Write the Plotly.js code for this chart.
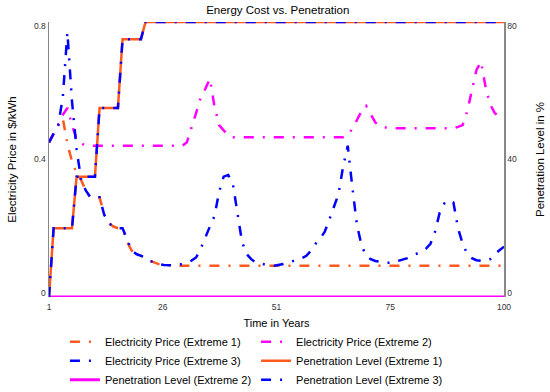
<!DOCTYPE html>
<html>
<head>
<meta charset="utf-8">
<script src="https://cdn.plot.ly/plotly-3.0.1.min.js"></script>
<style>html,body{margin:0;padding:0;background:#fff;}#chart{width:550px;height:392px;}</style>
</head>
<body>
<div id="chart"></div>
<script>
const years = [1,2,3,4,5,6,7,8,9,10,11,12,13,14,15,16,17,18,19,20,21,22,23,24,25,26,27,28,29,30,31,32,33,34,35,36,37,38,39,40,41,42,43,44,45,46,47,48,49,50,51,52,53,54,55,56,57,58,59,60,61,62,63,64,65,66,67,68,69,70,71,72,73,74,75,76,77,78,79,80,81,82,83,84,85,86,87,88,89,90,91,92,93,94,95,96,97,98,99,100];

const priceExtreme1 = [0.45,0.475,0.50,0.52,0.445,0.395,0.36,0.34,0.31,0.29,0.29,0.29,0.24,0.215,0.205,0.20,0.20,0.16,0.135,0.125,0.12,0.115,0.105,0.10,0.095,0.093,0.091,0.091,0.091,0.091,0.091,0.091,0.091,0.091,0.091,0.091,0.091,0.091,0.091,0.091,0.091,0.091,0.091,0.091,0.091,0.091,0.091,0.091,0.091,0.091,0.091,0.091,0.091,0.091,0.091,0.091,0.091,0.091,0.091,0.091,0.091,0.091,0.091,0.091,0.091,0.091,0.091,0.091,0.091,0.091,0.091,0.091,0.091,0.091,0.091,0.091,0.091,0.091,0.091,0.091,0.091,0.091,0.091,0.091,0.091,0.091,0.091,0.091,0.091,0.091,0.091,0.091,0.091,0.091,0.091,0.091,0.091,0.091,0.091,0.091];

const priceExtreme2 = [0.45,0.475,0.50,0.53,0.55,0.50,0.46,0.447,0.44,0.44,0.44,0.44,0.44,0.44,0.44,0.44,0.44,0.44,0.44,0.44,0.44,0.44,0.44,0.44,0.44,0.44,0.44,0.44,0.44,0.44,0.45,0.49,0.535,0.58,0.605,0.635,0.555,0.50,0.485,0.47,0.465,0.465,0.465,0.465,0.465,0.465,0.465,0.465,0.465,0.465,0.465,0.465,0.465,0.465,0.465,0.465,0.465,0.465,0.465,0.465,0.465,0.465,0.465,0.465,0.465,0.47,0.49,0.515,0.54,0.556,0.53,0.508,0.497,0.493,0.491,0.491,0.491,0.491,0.491,0.491,0.491,0.491,0.491,0.491,0.491,0.491,0.491,0.491,0.491,0.495,0.50,0.54,0.60,0.66,0.685,0.61,0.56,0.535,0.525,0.517];

const priceExtreme3 = [0.45,0.475,0.50,0.58,0.77,0.57,0.43,0.34,0.31,0.29,0.29,0.29,0.24,0.215,0.205,0.20,0.20,0.165,0.135,0.125,0.12,0.115,0.105,0.10,0.095,0.093,0.092,0.092,0.093,0.096,0.10,0.106,0.115,0.14,0.175,0.205,0.235,0.305,0.35,0.355,0.33,0.24,0.16,0.125,0.11,0.10,0.097,0.094,0.092,0.091,0.093,0.096,0.10,0.103,0.108,0.113,0.12,0.135,0.155,0.17,0.19,0.225,0.265,0.30,0.38,0.44,0.32,0.21,0.15,0.12,0.11,0.105,0.103,0.10,0.10,0.10,0.105,0.108,0.113,0.12,0.125,0.132,0.14,0.155,0.19,0.245,0.272,0.282,0.275,0.20,0.155,0.125,0.113,0.107,0.105,0.105,0.11,0.125,0.136,0.146];

const penExtreme1 = [0,20,20,20,20,20,35,35,35,35,35,55,55,55,55,55,75,75,75,75,75,80,80,80,80,80,80,80,80,80,80,80,80,80,80,80,80,80,80,80,80,80,80,80,80,80,80,80,80,80,80,80,80,80,80,80,80,80,80,80,80,80,80,80,80,80,80,80,80,80,80,80,80,80,80,80,80,80,80,80,80,80,80,80,80,80,80,80,80,80,80,80,80,80,80,80,80,80,80,80];

const penExtreme2 = [0,0,0,0,0,0,0,0,0,0,0,0,0,0,0,0,0,0,0,0,0,0,0,0,0,0,0,0,0,0,0,0,0,0,0,0,0,0,0,0,0,0,0,0,0,0,0,0,0,0,0,0,0,0,0,0,0,0,0,0,0,0,0,0,0,0,0,0,0,0,0,0,0,0,0,0,0,0,0,0,0,0,0,0,0,0,0,0,0,0,0,0,0,0,0,0,0,0,0,0];

const penExtreme3 = [0,20,20,20,20,20,35,35,35,35,35,55,55,55,55,55,75,75,75,75,75,80,80,80,80,80,80,80,80,80,80,80,80,80,80,80,80,80,80,80,80,80,80,80,80,80,80,80,80,80,80,80,80,80,80,80,80,80,80,80,80,80,80,80,80,80,80,80,80,80,80,80,80,80,80,80,80,80,80,80,80,80,80,80,80,80,80,80,80,80,80,80,80,80,80,80,80,80,80,80];

const xTickVals = [1, 25.75, 50.5, 75.25, 100];
const xTickText = ["1", "26", "51", "75", "100"];
// end labels sit slightly inside the plot edges, as in the reference
const leftTickVals = [0.0125, 0.4, 0.788];
const leftTickText = ["0", "0.4", "0.8"];
const rightTickVals = [1.25, 40, 78.8];
const rightTickText = ["0", "40", "80"];

const ORANGE = '#ff5a1e', MAGENTA = '#ff00ff', BLUE = '#0000ff';
const DASHDOT = '10px,9px,2px,9px';

const traces = [
  {x: years, y: priceExtreme1, name: 'Electricity Price (Extreme 1)', mode: 'lines', yaxis: 'y',
   line: {color: ORANGE, width: 2.5, dash: DASHDOT}},
  {x: years, y: priceExtreme2, name: 'Electricity Price (Extreme 2)', mode: 'lines', yaxis: 'y',
   line: {color: MAGENTA, width: 2.5, dash: DASHDOT}},
  {x: years, y: priceExtreme3, name: 'Electricity Price (Extreme 3)', mode: 'lines', yaxis: 'y',
   line: {color: BLUE, width: 2.5, dash: DASHDOT}},
  {x: years, y: penExtreme1, name: 'Penetration Level (Extreme 1)', mode: 'lines', yaxis: 'y2',
   line: {color: ORANGE, width: 2.5}},
  {x: years, y: penExtreme2, name: 'Penetration Level (Extreme 2)', mode: 'lines', yaxis: 'y2',
   line: {color: MAGENTA, width: 3}},
  {x: years, y: penExtreme3, name: 'Penetration Level (Extreme 3)', mode: 'lines', yaxis: 'y2',
   line: {color: BLUE, width: 2.5, dash: DASHDOT}}
];

const FONT = '"Liberation Sans", Arial, sans-serif';

const layout = {
  width: 550, height: 392,
  margin: {l: 49, r: 46, t: 22, b: 95, autoexpand: false},
  paper_bgcolor: '#fff', plot_bgcolor: '#fff',
  font: {family: FONT, color: '#000'},
  showlegend: true,
  title: {text: 'Energy Cost vs. Penetration', font: {size: 11.5, color: '#000'}, x: 0.505, xanchor: 'center', y: 0.975, yanchor: 'middle'},
  xaxis: {
    range: [1, 100], tickvals: xTickVals, ticktext: xTickText, showgrid: false, zeroline: false,
    showline: false, ticks: '', tickfont: {size: 8.5, color: '#333'}, ticklabelstandoff: 3,
    title: {text: 'Time in Years', font: {size: 11}, standoff: 8}
  },
  yaxis: {
    range: [0, 0.8], tickvals: leftTickVals, ticktext: leftTickText, showgrid: false, zeroline: false,
    showline: true, linecolor: '#888', linewidth: 1.5, ticks: '', tickfont: {size: 8.5, color: '#333'},
    title: {text: 'Electricity Price in $/kWh', font: {size: 11.5}, standoff: 15}
  },
  yaxis2: {
    range: [0, 80], tickvals: rightTickVals, ticktext: rightTickText, overlaying: 'y', side: 'right',
    showgrid: false, zeroline: false, showline: true, linecolor: '#888', linewidth: 1.5, ticks: '',
    tickfont: {size: 8.5, color: '#333'},
    title: {text: 'Penetration Level in %', font: {size: 11.5}, standoff: 20}
  },
  legend: {
    orientation: 'h', x: 0.035, xanchor: 'left', y: -0.11, yanchor: 'top',
    font: {size: 11, color: '#000'}, bgcolor: 'rgba(0,0,0,0)'
  }
};

Plotly.newPlot('chart', traces, layout, {staticPlot: true});
</script>
</body>
</html>
